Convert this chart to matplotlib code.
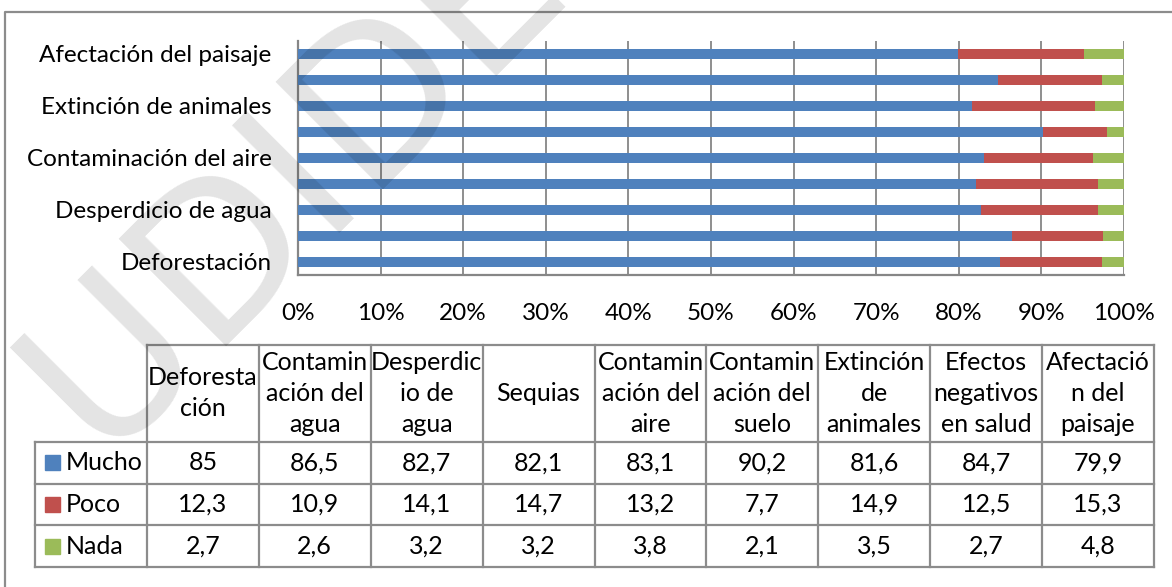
import numpy as np
import matplotlib
matplotlib.use("Agg")
import matplotlib.pyplot as plt
from matplotlib.lines import Line2D
from matplotlib.patches import Rectangle

plt.rcParams['font.family'] = ['Lato', 'DejaVu Sans']

# datos
categorias = ["Deforestación", "Contaminación del agua", "Desperdicio de agua", "Sequias",
              "Contaminación del aire", "Contaminación del suelo", "Extinción de animales",
              "Efectos negativos en salud", "Afectación del paisaje"]
encabezados = ["Deforesta\nción", "Contamin\nación del\nagua", "Desperdic\nio de\nagua", "Sequias",
               "Contamin\nación del\naire", "Contamin\nación del\nsuelo", "Extinción\nde\nanimales",
               "Efectos\nnegativos\nen salud", "Afectació\nn del\npaisaje"]
series = ["Mucho", "Poco", "Nada"]
mucho = [85, 86.5, 82.7, 82.1, 83.1, 90.2, 81.6, 84.7, 79.9]
poco = [12.3, 10.9, 14.1, 14.7, 13.2, 7.7, 14.9, 12.5, 15.3]
nada = [2.7, 2.6, 3.2, 3.2, 3.8, 2.1, 3.5, 2.7, 4.8]
xticks = [0, 10, 20, 30, 40, 50, 60, 70, 80, 90, 100]
colores = ["#4F81BD", "#C0504D", "#9BBB59"]

W, H = 1172, 587
gris = "#8c8c8c"
fs = 17.5      # ejes
fs_tab = 18    # tabla


def caja(x0, y0, x1, y1):
    # caja en pixeles -> fraccion de figura
    return [x0 / W, 1 - y1 / H, (x1 - x0) / W, (y1 - y0) / H]


fig = plt.figure(figsize=(W / 100, H / 100), dpi=100)

# grafico de barras
ax = fig.add_axes(caja(298, 41, 1124, 275))
datos = np.array([mucho, poco, nada])
pct = datos / datos.sum(axis=0)
y = np.arange(len(categorias))
izq = np.zeros(len(categorias))
for serie, fila, c in zip(series, pct, colores):
    ax.barh(y, fila, left=izq, height=0.42, color=c, label=serie, zorder=3)
    izq += fila
ax.set_xlim(0, 1)
ax.set_ylim(-0.5, len(categorias) - 0.5)
ax.set_xticks([t / 100 for t in xticks])
ax.set_xticklabels([f"{t}%" for t in xticks], fontsize=fs)
ax.set_yticks(y[::2])
ax.set_yticklabels(categorias[::2], fontsize=fs)
ax.grid(axis='x', color='#868686', lw=1.3, zorder=0)
ax.tick_params(length=0)
ax.tick_params(axis='y', pad=19)
ax.tick_params(axis='x', pad=20)
for s in ['top', 'right']:
    ax.spines[s].set_visible(False)
for s in ['left', 'bottom']:
    ax.spines[s].set_color('#868686')
    ax.spines[s].set_linewidth(1.6)

# tabla de datos
tab = fig.add_axes(caja(35, 345, 1154, 567))
n = len(categorias)
alto_enc = 97 / 41.7
tope = 3 + alto_enc
tab.set_xlim(-1, n)
tab.set_ylim(0, tope)
tab.axis('off')
kw = dict(color=gris, lw=1.6, clip_on=False)
for r in range(4):
    tab.plot([-1, n], [r, r], **kw)
tab.plot([0, n], [tope, tope], **kw)
tab.plot([-1, -1], [0, 3], **kw)
for c in range(n + 1):
    tab.plot([c, c], [0, tope], **kw)

for i, enc in enumerate(encabezados):
    tab.text(i + 0.5, 3 + alto_enc / 2, enc, ha='center', va='center',
             fontsize=fs_tab, linespacing=1.42)
for k, (serie, fila, c) in enumerate(zip(series, datos, colores)):
    fy = 2 - k
    tab.add_patch(Rectangle((-1 + 10 / 111.9, fy + 0.5 - 0.18), 15 / 111.9, 0.36,
                            color=c, clip_on=False))
    tab.text(-1 + 31 / 111.9, fy + 0.5, serie, ha='left', va='center', fontsize=fs_tab)
    for i, v in enumerate(fila):
        tab.text(i + 0.5, fy + 0.5, f"{v:g}".replace('.', ','), ha='center',
                 va='center', fontsize=fs_tab)

# marco exterior
fig.add_artist(Line2D([5 / W, 5 / W, 1], [0, 1 - 12 / H, 1 - 12 / H],
                      transform=fig.transFigure, color=gris, lw=1.6))

# marca de agua
fig.text(100 / W, 1 - 455 / H, "UDIDE", rotation=45, rotation_mode='anchor',
         family='DejaVu Sans', fontsize=150, color='k',
         alpha=0.11, ha='left', va='baseline', zorder=10)

fig.savefig("out.png", dpi=100)
